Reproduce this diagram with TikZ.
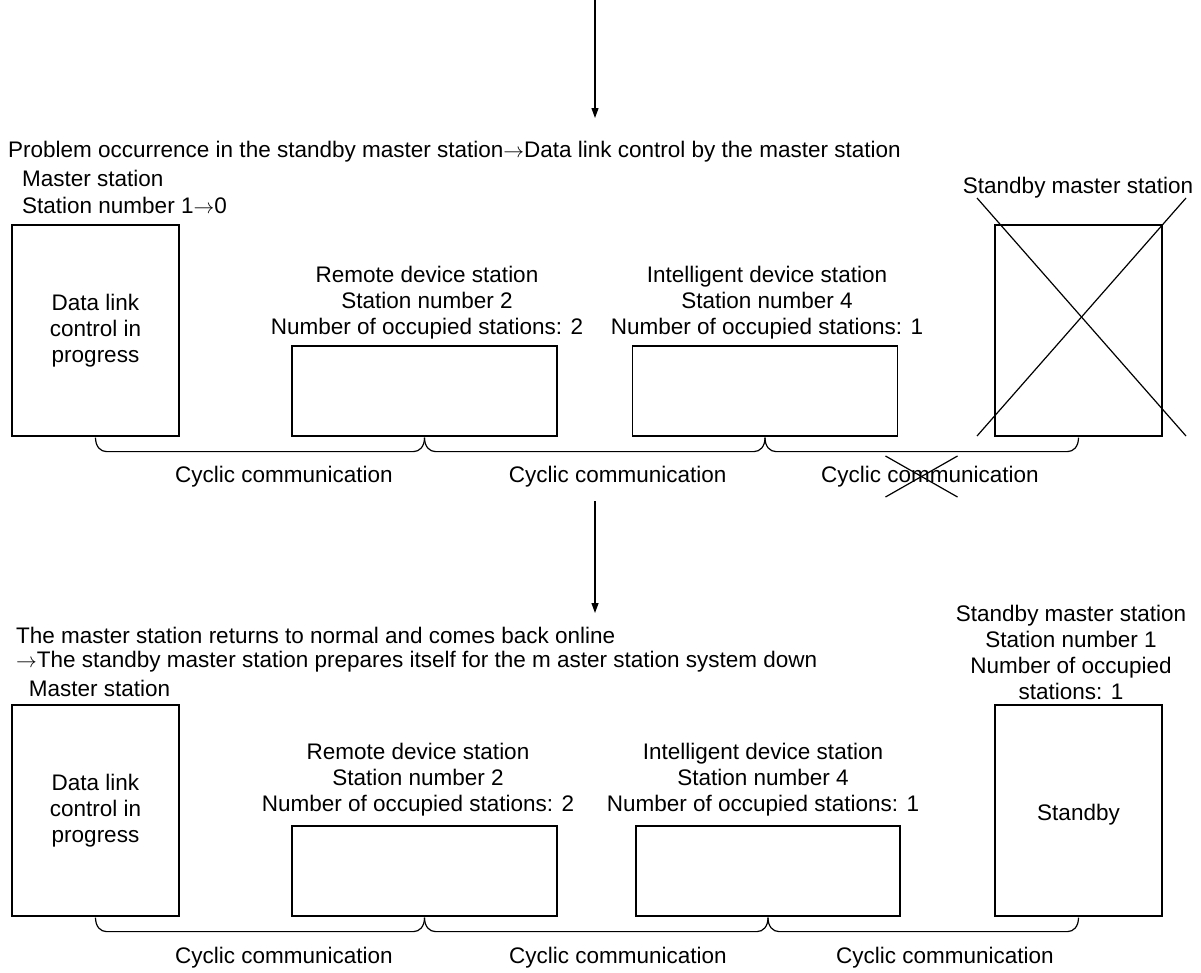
\documentclass[tikz,border=0pt]{standalone}
\usepackage{fontspec}
\setmainfont{Liberation Sans}
\usetikzlibrary{arrows.meta}
\newcommand\Brc[2]{\draw[ln] ([yshift=-1pt]#1.south) .. controls +(0,-9pt) and +(-6pt,0) .. ([shift={(11pt,-15pt)}]#1.south) -- ([shift={(-11pt,-15pt)}]#2.south) .. controls +(6pt,0) and +(0,-9pt) .. ([yshift=-1pt]#2.south);}
\newcommand\Rarr{\(\rightarrow\)}
\begin{document}
\begin{tikzpicture}[x=1pt,y=1pt,
  txt/.style={font=\fontsize{22.5}{26}\selectfont, inner sep=0pt, align=center},
  box/.style={draw, line width=1.2pt, inner sep=0pt},
  ln/.style={line width=1.2pt},
  arr/.style={line width=1.2pt, -{Triangle[length=10pt,width=7pt]}}]
\useasboundingbox (0,0) rectangle (1201,-972);
% ---------- top arrow
\coordinate (a0) at (595,0);
\coordinate (a1) at (595,-118);
\draw[arr] (a0) -- (a1);
% ---------- upper stage
\node[txt, anchor=west] (t1) at (8,-152) {Problem occurrence in the standby master station\Rarr Data link control by the master station};
\node[txt, anchor=west] (t2) at (22,-178) {Master station};
\node[txt, anchor=west] (t3) at (22,-205) {Station number 1\Rarr 0};
\node[box, txt, minimum width=167pt, minimum height=211pt] (m1) at (95.5,-330.5) {Data link\\control in\\progress};
\node[box, minimum width=265pt, minimum height=90pt] (r1) at (424.5,-391) {};
\node[txt] (r1t) at (427,-303) {Remote device station\\Station number 2\\Number of occupied stations: 2};
\node[box, minimum width=265pt, minimum height=90pt] (i1) at (765,-391) {};
\node[txt] (i1t) at (767,-303) {Intelligent device station\\Station number 4\\Number of occupied stations: 1};
\node[box, minimum width=167pt, minimum height=211pt] (s1) at (1078.5,-330.5) {};
\node[txt] (s1t) at (1078,-188) {Standby master station};
\draw[ln] (977,-198) -- (1186,-436);
\draw[ln] (1186,-198) -- (977,-436);
\Brc{m1}{r1}
\Brc{r1}{i1}
\Brc{i1}{s1}
\node[txt] (c1) at (284,-477) {Cyclic communication};
\node[txt] (c2) at (617.7,-477) {Cyclic communication};
\node[txt] (c3) at (930,-477) {Cyclic communication};
\draw[ln] (885.5,-456) -- (957.5,-497);
\draw[ln] (957.5,-456) -- (885.5,-497);
% ---------- middle arrow
\coordinate (b0) at (595,-501);
\coordinate (b1e) at (595,-613);
\draw[arr] (b0) -- (b1e);
% ---------- lower stage
\node[txt, anchor=west] (u1) at (16,-635) {The master station returns to normal and comes back online};
\node[txt, anchor=west] (u2) at (16,-662) {\Rarr The standby master station prepares itself for the m aster station system down};
\node[txt, anchor=west] (u3) at (28.7,-688) {Master station};
\node[box, txt, minimum width=167pt, minimum height=211pt] (m2) at (95.5,-810.5) {Data link\\control in\\progress};
\node[box, minimum width=265pt, minimum height=90pt] (r2) at (424.5,-871) {};
\node[txt] (r2t) at (418,-779.5) {Remote device station\\Station number 2\\Number of occupied stations: 2};
\node[box, minimum width=264pt, minimum height=90pt] (i2) at (768,-871) {};
\node[txt] (i2t) at (763,-779.5) {Intelligent device station\\Station number 4\\Number of occupied stations: 1};
\node[box, minimum width=167pt, minimum height=211pt] (s2) at (1078.5,-810.5) {};
\node[txt] (s2t) at (1078.5,-815) {Standby};
\node[txt] (s2h) at (1071,-652) {Standby master station\\Station number 1\\Number of occupied\\stations: 1};
\Brc{m2}{r2}
\Brc{r2}{i2}
\Brc{i2}{s2}
\node[txt] (d1) at (284,-958) {Cyclic communication};
\node[txt] (d2) at (618,-958) {Cyclic communication};
\node[txt] (d3) at (945,-958) {Cyclic communication};
\end{tikzpicture}
\end{document}
